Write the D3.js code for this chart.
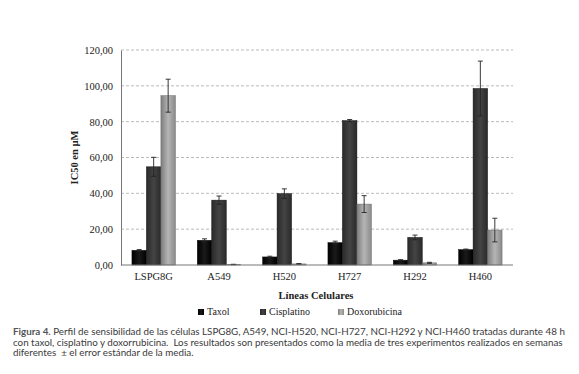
<!DOCTYPE html>
<html>
<head>
<meta charset="utf-8">
<script src="https://cdn.jsdelivr.net/npm/d3@7"></script>
<style>
  body { margin: 0; background: #fff; }
  .caption { position: absolute; left: 13px; top: 326px; white-space: nowrap;
    font-family: Lato, "Open Sans", sans-serif; font-size: 9.8px; line-height: 10.7px; color: #3a3a3a; }
  .caption b { color: #555; }
</style>
</head>
<body>
<script>
// Data
var cellLines = ["LSPG8G", "A549", "H520", "H727", "H292", "H460"];
var drugs = ["Taxol", "Cisplatino", "Doxorubicina"];
var taxol       = [8.2, 13.8, 4.5, 12.5, 2.7, 8.6];
var cisplatino  = [54.8, 36.2, 39.8, 80.6, 15.4, 98.5];
var doxorubicina = [94.5, 0.3, 0.6, 34, 1.2, 19.5];
var taxolErr  = [0.4, 0.8, 0.4, 0.8, 0.3, 0.3];
var cisErr    = [5.3, 2.3, 2.7, 0.6, 1.3, 15.3];
var doxoErr   = [9.2, 0.1, 0.2, 4.7, 0.3, 6.6];
var yTicks = [0, 20, 40, 60, 80, 100, 120];

var values = [taxol, cisplatino, doxorubicina];
var errors = [taxolErr, cisErr, doxoErr];
var colors = [["#000", "#1a1a1a", "#000"], ["#2a2a2a", "#444", "#2a2a2a"], ["#7d7d7d", "#b5b5b5", "#8a8a8a"]];

var w = 579, h = 374;
var mLeft = 121, mRight = 513, mTop = 50, mBottom = 265;

var svg = d3.select("body").append("svg").attr("width", w).attr("height", h)
  .style("position", "absolute").style("left", 0).style("top", 0);

// bar gradients
var defs = svg.append("defs");
colors.forEach(function(c, i) {
  var g = defs.append("linearGradient").attr("id", "g" + i);
  g.append("stop").attr("offset", "0%").attr("stop-color", c[0]);
  g.append("stop").attr("offset", "50%").attr("stop-color", c[1]);
  g.append("stop").attr("offset", "100%").attr("stop-color", c[2]);
});

var x0 = d3.scaleBand().domain(cellLines).range([mLeft, mRight]).paddingInner(0.335).paddingOuter(0.1675);
var x1 = d3.scaleBand().domain(drugs).range([0, x0.bandwidth()]);
var y = d3.scaleLinear().domain([0, 120]).range([mBottom, mTop]);

// gridlines
svg.append("g").selectAll("line").data(yTicks.slice(1)).enter().append("line")
  .attr("x1", mLeft).attr("x2", mRight)
  .attr("y1", function(d) { return y(d); }).attr("y2", function(d) { return y(d); })
  .attr("stroke", "#aaa").attr("stroke-dasharray", "3,2").attr("stroke-width", 0.8);

// y axis
var yAxis = d3.axisLeft(y).tickValues(yTicks).tickSize(0).tickPadding(8)
  .tickFormat(function(d) { return d3.format(".2f")(d).replace(".", ","); });
var ya = svg.append("g").attr("transform", "translate(" + mLeft + ",0)").call(yAxis);
ya.select(".domain").attr("stroke", "#777");
ya.selectAll("text").attr("font-family", "Liberation Serif, serif").attr("font-size", 10.5).attr("fill", "#222");

// bars
var groups = svg.append("g").selectAll("g").data(cellLines).enter().append("g")
  .attr("transform", function(d) { return "translate(" + x0(d) + ",0)"; });

drugs.forEach(function(drug, k) {
  groups.append("rect")
    .attr("x", x1(drug)).attr("width", x1.bandwidth())
    .attr("y", function(d, i) { return y(values[k][i]); })
    .attr("height", function(d, i) { return mBottom - y(values[k][i]); })
    .attr("fill", "url(#g" + k + ")")
    .attr("stroke", k == 2 ? "#6a6a6a" : "#111").attr("stroke-width", 0.5);

  // error bars
  var cx = x1(drug) + x1.bandwidth() / 2;
  var eb = groups.append("g");
  eb.append("line").attr("x1", cx).attr("x2", cx)
    .attr("y1", function(d, i) { return y(values[k][i] + errors[k][i]); })
    .attr("y2", function(d, i) { return y(Math.max(0, values[k][i] - errors[k][i])); })
    .attr("stroke", "#222").attr("stroke-width", 0.9);
  [1, -1].forEach(function(s) {
    eb.append("line").attr("x1", cx - 2.5).attr("x2", cx + 2.5)
      .attr("y1", function(d, i) { return y(Math.max(0, values[k][i] + s * errors[k][i])); })
      .attr("y2", function(d, i) { return y(Math.max(0, values[k][i] + s * errors[k][i])); })
      .attr("stroke", "#222").attr("stroke-width", 0.9);
  });
});

// x axis
var xAxis = d3.axisBottom(x0).tickSize(0).tickPadding(8);
var xa = svg.append("g").attr("transform", "translate(0," + mBottom + ")").call(xAxis);
xa.select(".domain").attr("stroke", "#777").attr("d", "M" + mLeft + ",0H" + mRight);
xa.selectAll("text").attr("font-family", "Liberation Serif, serif").attr("font-size", 10.5).attr("fill", "#222");

// axis titles
svg.append("text").attr("transform", "translate(78," + ((mTop + mBottom) / 2) + ") rotate(-90)")
  .attr("text-anchor", "middle").attr("font-family", "Liberation Serif, serif")
  .attr("font-size", 10.5).attr("font-weight", "bold").attr("fill", "#222").text("IC50 en µM");
svg.append("text").attr("x", (mLeft + mRight) / 2 - 1).attr("y", 299)
  .attr("text-anchor", "middle").attr("font-family", "Liberation Serif, serif")
  .attr("font-size", 10.5).attr("font-weight", "bold").attr("fill", "#222").text("Líneas Celulares");

// legend
var legendX = [198, 260, 338];
var lg = svg.append("g").selectAll("g").data(drugs).enter().append("g")
  .attr("transform", function(d, i) { return "translate(" + legendX[i] + ",315)"; });
lg.append("rect").attr("x", 0).attr("y", -6).attr("width", 6).attr("height", 6)
  .attr("fill", function(d, i) { return "url(#g" + i + ")"; });
lg.append("text").attr("x", 9).attr("y", 0).attr("font-family", "Liberation Serif, serif")
  .attr("font-size", 10).attr("fill", "#222").text(function(d) { return d; });
</script>
<div class="caption"><b>Figura 4.</b> Perfil de sensibilidad de las células LSPG8G, A549, NCI-H520, NCI-H727, NCI-H292 y NCI-H460 tratadas durante 48 h<br>con taxol, cisplatino y doxorrubicina.&nbsp; Los resultados son presentados como la media de tres experimentos realizados en semanas<br>diferentes&nbsp; ± el error estándar de la media.</div>
</body>
</html>
